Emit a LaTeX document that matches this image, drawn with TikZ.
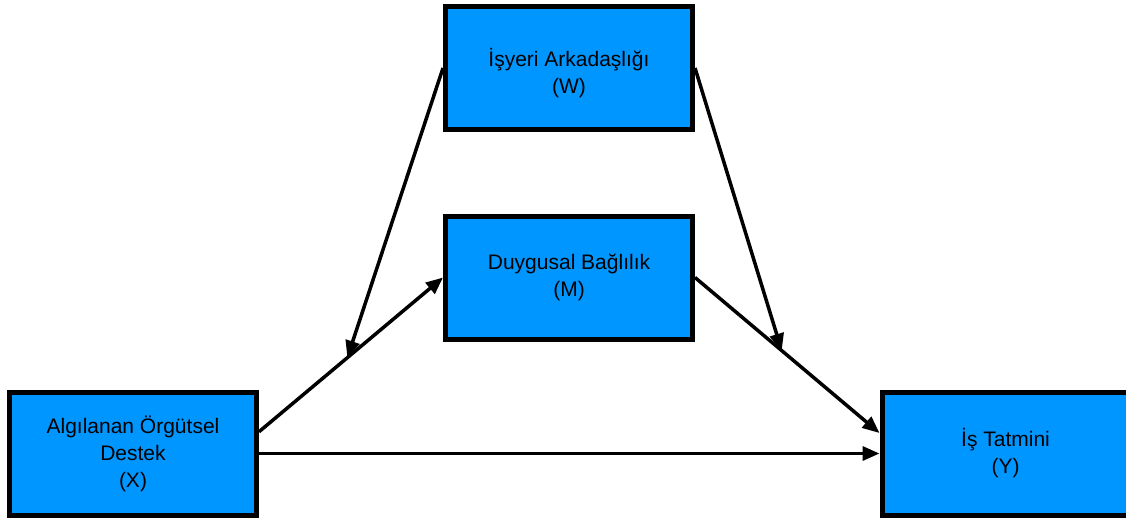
\documentclass[tikz,border=0pt]{standalone}
\usepackage{fontspec}
\setmainfont{Liberation Sans}
\usetikzlibrary{arrows.meta,calc}
\definecolor{boxblue}{HTML}{0096FF}
\begin{document}
\begin{tikzpicture}[x=1pt,y=-1pt,
  vbox/.style={draw=black, line width=5pt, fill=boxblue, minimum width=247pt,
    minimum height=123pt, align=center, inner sep=0pt,
    font=\fontsize{21}{27}\selectfont},
  conn/.style={line width=3.5pt, -{Triangle[length=17pt,width=14pt]}}]
\useasboundingbox (0,0) rectangle (1126,520);
\node[vbox] (W) at (569,68) {\rule{0pt}{29pt}İşyeri Arkadaşlığı\\(W)};
\node[vbox] (M) at (569,277.5) {Duygusal Bağlılık\\(M)};
\node[vbox] (X) at (133,453.5) {Algılanan Örgütsel\\Destek\\(X)};
\node[vbox] (Y) at (1005.5,453.5) {İş Tatmini\\(Y)};
\draw[conn] ($(X.north east)!0.33!(X.south east)$) -- coordinate[pos=0.48] (p1) (M.west);
\draw[conn] (M.east) -- coordinate[pos=0.47] (p2) ($(Y.north west)!0.34!(Y.south west)$);
\draw[conn] (X.east) -- (Y.west);
\draw[conn] (W.west) -- (p1);
\draw[conn] (W.east) -- (p2);
\end{tikzpicture}
\end{document}
